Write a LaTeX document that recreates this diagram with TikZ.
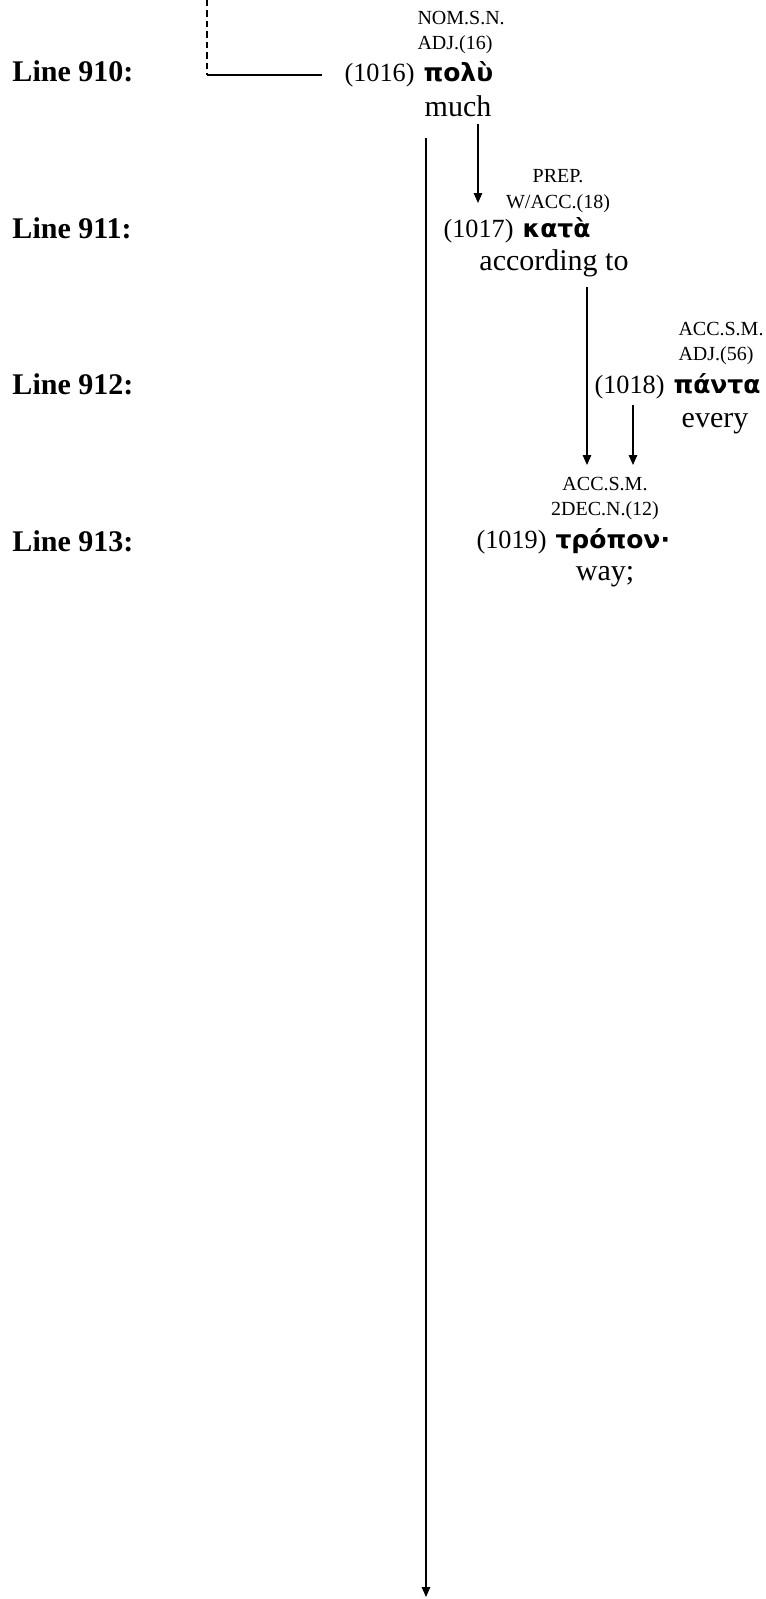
\documentclass[tikz,border=0pt]{standalone}
\usepackage{fontspec}
\setmainfont{Liberation Serif}
\newfontfamily\greekfont{DejaVu Sans}
\usetikzlibrary{arrows.meta}

\begin{document}
\begin{tikzpicture}[
        x = 0.4pt,
        y = -0.4pt,
        linelab/.style = {font=\fontsize{12}{14}\selectfont\bfseries, anchor=base west, inner sep=0pt},
        tag/.style = {font=\fontsize{8}{10}\selectfont, inner sep=0pt},
        num/.style = {font=\fontsize{10.5}{12}\selectfont, anchor=base east, inner sep=0pt},
        word/.style = {font=\greekfont\fontsize{10}{12}\selectfont\bfseries, anchor=base west, inner sep=0pt},
        gloss/.style = {font=\fontsize{12}{14}\selectfont, anchor=base, inner sep=0pt},
        link/.style = {-{Triangle[width=3.4pt, length=4pt]}, line width=0.6pt}
    ]
        \useasboundingbox (0, 0) rectangle (766, 1599);

        \coordinate (top) at (207, 0);
        \coordinate (corner) at (207, 75);
        \coordinate (in1017) at (478, 203);
        \coordinate (in1019a) at (587, 465);
        \coordinate (in1019b) at (633, 465);
        \coordinate (out) at (426, 1597);

        \node[linelab] (l910) at (12, 82) {Line 910:};
        \node[linelab] (l911) at (12, 238) {Line 911:};
        \node[linelab] (l912) at (12, 394) {Line 912:};
        \node[linelab] (l913) at (12, 551) {Line 913:};

        \node[word] (w1016) at (423, 82) {πολὺ};
        \node[num] (n1016) at ([xshift=-3.2pt]w1016.base west) {(1016)};
        \node[tag, align=left, anchor=base west] (t1016) at (417, 50) {NOM.S.N.\\ADJ.(16)};
        \node[gloss] (g1016) at (458, 117) {much};

        \node[word] (w1017) at (522, 237) {κατὰ};
        \node[num] (n1017) at ([xshift=-3.2pt]w1017.base west) {(1017)};
        \node[tag, align=center, anchor=base] (t1017) at (558, 208) {PREP.\\W/ACC.(18)};
        \node[gloss] (g1017) at (554, 270) {according to};

        \node[word] (w1018) at (673, 393) {πάντα};
        \node[num] (n1018) at ([xshift=-3.2pt]w1018.base west) {(1018)};
        \node[tag, align=left, anchor=base west] (t1018) at (678, 360) {ACC.S.M.\\ADJ.(56)};
        \node[gloss] (g1018) at (715, 427) {every};

        \node[word] (w1019) at (555, 548) {τρόπον·};
        \node[num] (n1019) at ([xshift=-3.2pt]w1019.base west) {(1019)};
        \node[tag, align=center, anchor=base] (t1019) at (605, 515) {ACC.S.M.\\2DEC.N.(12)};
        \node[gloss] (g1019) at (605, 580) {way;};

        \draw[line width=0.5pt, dash pattern=on 2.6pt off 1.6pt] (top) -- (corner);
        \draw[line width=0.5pt, shorten >=8.8pt] (corner) -- (corner -| n1016.west);

        \draw[link, shorten <=8pt] (g1016.south -| out) -- (out);
        \draw[link, shorten <=2.4pt] (g1016.south -| in1017) -- (in1017);
        \draw[link, shorten <=4pt] (g1017.south -| in1019a) -- (in1019a);
        \draw[link, shorten <=2.4pt] (n1018.south -| in1019b) -- (in1019b);

    \end{tikzpicture}
\end{document}
